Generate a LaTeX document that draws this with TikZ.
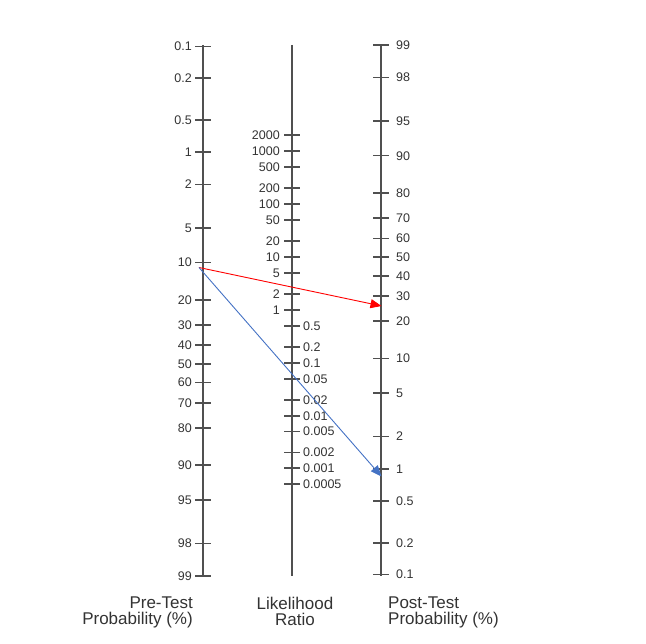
\documentclass[tikz,border=0pt]{standalone}
\usepackage{fontspec}
\setmainfont{Liberation Sans}
\definecolor{axisgray}{HTML}{505050}
\definecolor{labelgray}{HTML}{333333}
\definecolor{posred}{HTML}{FF0000}
\definecolor{negblue}{HTML}{4472C4}
\usetikzlibrary{arrows.meta}

\begin{document}
\begin{tikzpicture}[x=1pt,y=-1pt,
    axis/.style={draw=axisgray,line width=1.6pt},
    tickmark/.style={draw=axisgray,line width=1.6pt},
    ticklabel/.style={font=\fontsize{12.5}{12.5}\selectfont,text=labelgray,inner sep=0pt},
    title/.style={font=\fontsize{17}{16.5}\selectfont,text=labelgray,inner sep=0pt},
    result/.style={line width=0.9pt,-{Triangle[length=11pt,width=9pt]}}]
    \useasboundingbox (0,0) rectangle (646,644);
    % the three axes
    \coordinate (pretop) at (203,45);    \coordinate (prebot) at (203,576);
    \coordinate (lrtop) at (292,45);     \coordinate (lrbot) at (292,576);
    \coordinate (posttop) at (381,45);   \coordinate (postbot) at (381,576);
    \draw[axis] (pretop) -- (prebot);
    \draw[axis] (lrtop) -- (lrbot);
    \draw[axis] (posttop) -- (postbot);
    % pre-test probability scale (logit)
    \foreach \p [count=\i, evaluate=\p as \yy using {45+(6.9068+ln(\p/(100-\p)))*46.166}]
        in {0.1,0.2,0.5,1,2,5,10,20,30,40,50,60,70,80,90,95,98,99} {
        \draw[tickmark] (195,\yy) -- (211,\yy);
        \node[ticklabel,anchor=east] (pre\i) at (192,\yy) {\p};
    }
    % likelihood ratio scale (log)
    \foreach \r [count=\i, evaluate=\r as \yy using {310-23.0*ln(\r)}]
        in {2000,1000,500,200,100,50,20,10,5,2,1} {
        \draw[tickmark] (284,\yy) -- (300,\yy);
        \node[ticklabel,anchor=east] (lrhi\i) at (280,\yy) {\r};
    }
    \foreach \r [count=\i, evaluate=\r as \yy using {310-23.0*ln(\r)}]
        in {0.5,0.2,0.1,0.05,0.02,0.01,0.005,0.002,0.001,0.0005} {
        \draw[tickmark] (284,\yy) -- (300,\yy);
        \node[ticklabel,anchor=west] (lrlo\i) at (303,\yy) {\r};
    }
    % post-test probability scale (logit, reversed)
    \foreach \p [count=\i, evaluate=\p as \yy using {45+(4.5951-ln(\p/(100-\p)))*46.166}]
        in {99,98,95,90,80,70,60,50,40,30,20,10,5,2,1,0.5,0.2,0.1} {
        \draw[tickmark] (373,\yy) -- (389,\yy);
        \node[ticklabel,anchor=west] (post\i) at (396,\yy) {\p};
    }
    % titles
    \node[title,anchor=north east,align=right] (pretitle) at (193,596.5) {Pre-Test\\Probability (\%)};
    \node[title,anchor=north,align=center] (lrtitle) at (295,596.5) {Likelihood\\Ratio};
    \node[title,anchor=north west,align=left] (posttitle) at (388,596.5) {Post-Test\\Probability (\%)};
    % worked example
    \coordinate (pretest) at (199,267.5);
    \coordinate (postpos) at (381.5,306);
    \coordinate (postneg) at (381.5,476.5);
    \draw[result,posred] (pretest) -- (postpos);
    \draw[result,negblue] (pretest) -- (postneg);
\end{tikzpicture}
\end{document}
